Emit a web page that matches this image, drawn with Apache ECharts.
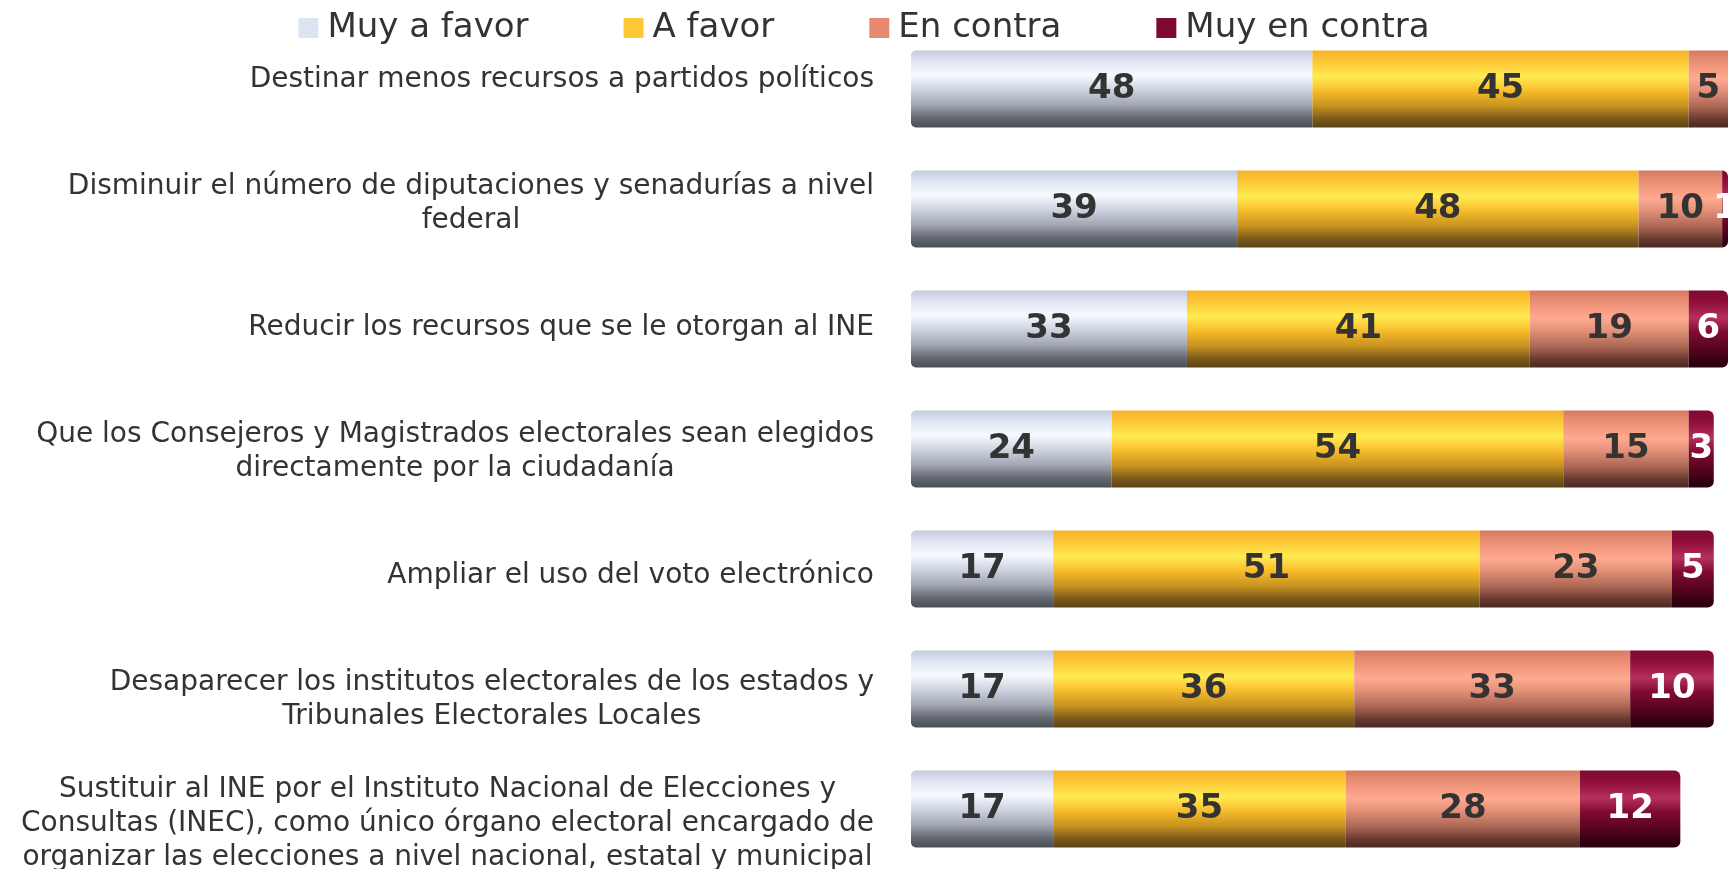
<!DOCTYPE html>
<html>
<head>
<meta charset="utf-8">
<script src="https://cdn.jsdelivr.net/npm/echarts@6/dist/echarts.min.js"></script>
<style>
  html, body { margin: 0; padding: 0; background: #fff; }
  #chart { width: 1728px; height: 869px; }
</style>
</head>
<body>
<div id="chart"></div>
<script>
(function () {
  const categories = [
    'Destinar menos recursos a partidos políticos',
    'Disminuir el número de diputaciones y senadurías a nivel\nfederal',
    'Reducir los recursos que se le otorgan al INE',
    'Que los Consejeros y Magistrados electorales sean elegidos\ndirectamente por la ciudadanía',
    'Ampliar el uso del voto electrónico',
    'Desaparecer los institutos electorales de los estados y\nTribunales Electorales Locales',
    'Sustituir al INE por el Instituto Nacional de Elecciones y\nConsultas (INEC), como único órgano electoral encargado de\norganizar las elecciones a nivel nacional, estatal y municipal'
  ];
  const seriesNames = ['Muy a favor', 'A favor', 'En contra', 'Muy en contra'];
  const muyAFavor = [48, 39, 33, 24, 17, 17, 17];
  const aFavor = [45, 48, 41, 54, 51, 36, 35];
  const enContra = [5, 10, 19, 15, 23, 33, 28];
  const muyEnContra = [2, 1, 6, 3, 5, 10, 12];

  const font = '"DejaVu Sans", sans-serif';
  const textColor = '#333333';

  // the category labels sit a little off their bars in the original
  const labelShift = [-9, -5, -1, 3, 7, 11, 15];

  // flat colours for the legend, cylinder gradients for the bars
  const legendColors = ['#dce3f3', '#fdc935', '#e88a6f', '#7f0a2f'];
  const stops = [
    [['#c3c8d8', 0], ['#dde3f3', 0.12], ['#f7faff', 0.32], ['#d0d5e2', 0.5], ['#a3a8b5', 0.7], ['#62666f', 0.88], ['#4b4e56', 1]],
    [['#f3b32c', 0], ['#fcc634', 0.14], ['#ffeb52', 0.34], ['#f8bd2c', 0.52], ['#c8921f', 0.72], ['#7e5d1b', 0.88], ['#5a4317', 1]],
    [['#d67a63', 0], ['#ea8d73', 0.14], ['#ffaa90', 0.36], ['#e3917a', 0.52], ['#a86452', 0.74], ['#66382f', 0.9], ['#4a2823', 1]],
    [['#7d0930', 0], ['#8e0d3a', 0.14], ['#b6305e', 0.36], ['#800b30', 0.54], ['#57041e', 0.76], ['#340111', 0.92], ['#26000b', 1]]
  ];

  function gradient(list) {
    return {
      type: 'linear', x: 0, y: 0, x2: 0, y2: 1,
      colorStops: list.map(([color, offset]) => ({ offset, color }))
    };
  }

  const dataSets = [muyAFavor, aFavor, enContra, muyEnContra];
  const radii = [[5, 0, 0, 5], 0, 0, [0, 6, 6, 0]];

  const series = dataSets.map((data, i) => ({
    name: seriesNames[i],
    type: 'bar',
    stack: 'total',
    barWidth: 77,
    data,
    color: legendColors[i],
    itemStyle: {
      color: gradient(stops[i]),
      borderRadius: radii[i]
    },
    label: {
      show: true,
      position: 'inside',
      fontFamily: font,
      fontSize: 34,
      fontWeight: 'bold',
      color: i === 3 ? '#ffffff' : '#333333'
    },
    emphasis: { disabled: true }
  }));

  const yData = categories.map((value, i) => {
    const d = labelShift[i];
    return {
      value,
      textStyle: { padding: d >= 0 ? [2 * d, 0, 0, 0] : [0, 0, -2 * d, 0] }
    };
  });

  const chart = echarts.init(document.getElementById('chart'));
  chart.setOption({
    animation: false,
    legend: {
      top: 5,
      left: 'center',
      itemGap: 95,
      itemWidth: 20,
      itemHeight: 20,
      icon: 'rect',
      data: seriesNames.map((name, i) => ({ name, itemStyle: { color: legendColors[i] } })),
      textStyle: {
        fontFamily: font,
        fontSize: 34,
        lineHeight: 36,
        color: textColor,
        padding: [0, 0, 0, 4]
      }
    },
    grid: {
      left: 911,
      top: 29,
      right: 0,
      height: 840,
      containLabel: false,
      outerBoundsMode: 'none'
    },
    xAxis: {
      type: 'value',
      min: 0,
      max: 97.7,
      show: false
    },
    yAxis: {
      type: 'category',
      inverse: true,
      data: yData,
      axisLine: { show: false },
      axisTick: { show: false },
      axisLabel: {
        margin: 37,
        fontFamily: font,
        fontSize: 28,
        lineHeight: 34,
        color: textColor,
        formatter: (v) => '{c|' + v + '}',
        rich: {
          c: {
            align: 'center',
            fontFamily: font,
            fontSize: 28,
            lineHeight: 34,
            color: textColor
          }
        }
      }
    },
    series
  });

  window.addEventListener('resize', () => chart.resize());
})();
</script>
</body>
</html>
